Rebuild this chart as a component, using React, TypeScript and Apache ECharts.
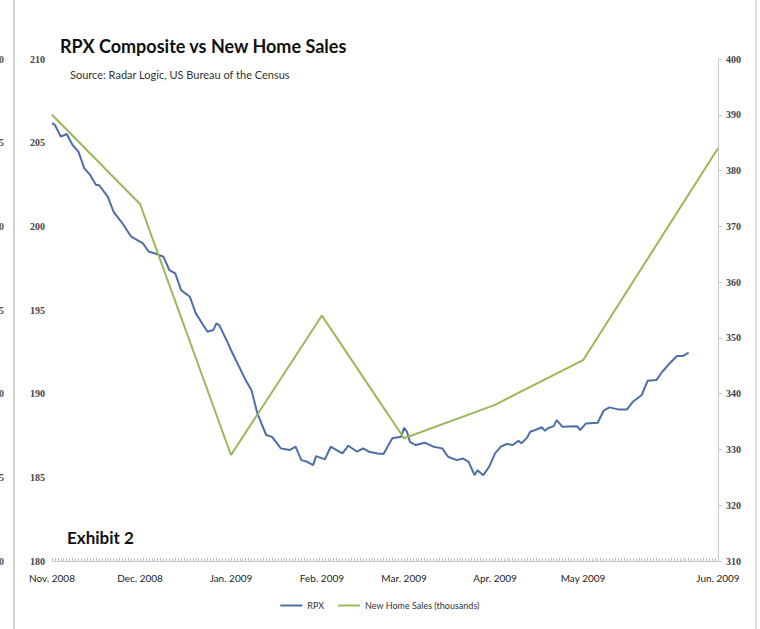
import React, { useEffect, useRef } from "react";
import * as echarts from "echarts";

// RPX composite index (left axis) — day offset from Nov 1, 2008
const rpxDays = [0, 1, 3, 5, 7, 9, 11, 13, 15, 16, 19, 21, 24, 27, 31, 33, 35, 38, 40, 42, 44, 47, 49, 53, 55, 56, 57, 60, 61, 66, 68, 70, 73, 75, 78, 81, 83, 85, 87, 89, 90, 93, 95, 97, 99, 101, 104, 106, 108, 111, 113, 116, 119, 120, 121, 122, 124, 127, 130, 133, 135, 138, 140, 142, 144, 145, 147, 149, 151, 153, 155, 157, 159, 160, 162, 163, 164, 167, 168, 169, 171, 172, 174, 179, 180, 182, 186, 188, 190, 193, 196, 198, 201, 203, 206, 208, 210, 213, 215, 217];
const rpxValues = [206.17, 206.06, 205.36, 205.52, 204.86, 204.46, 203.47, 203.07, 202.47, 202.47, 201.77, 200.87, 200.18, 199.38, 198.98, 198.48, 198.39, 198.18, 197.39, 197.19, 196.19, 195.79, 194.8, 193.7, 193.8, 194.2, 194.1, 193.01, 192.61, 190.81, 190.21, 188.82, 187.53, 187.42, 186.73, 186.63, 186.83, 186.03, 185.93, 185.73, 186.27, 186.07, 186.83, 186.63, 186.43, 186.89, 186.53, 186.73, 186.53, 186.43, 186.39, 187.33, 187.42, 187.96, 187.72, 187.12, 186.93, 187.07, 186.83, 186.73, 186.23, 186.03, 186.13, 185.93, 185.13, 185.43, 185.13, 185.63, 186.43, 186.83, 186.99, 186.93, 187.18, 187.03, 187.39, 187.72, 187.78, 187.99, 187.78, 187.93, 188.06, 188.42, 188.02, 188.06, 187.82, 188.22, 188.26, 188.98, 189.18, 189.06, 189.06, 189.52, 189.92, 190.77, 190.81, 191.31, 191.71, 192.25, 192.25, 192.45];

// New home sales, thousands (right axis)
const salesDays = [0, 30, 61, 92, 120, 151, 181, 227];
const salesValues = [390, 374, 329, 354, 332, 338, 346, 384];

// x-axis month labels
const monthDays = [0, 30, 61, 92, 120, 151, 181, 227];
const monthLabels = ["Nov. 2008", "Dec. 2008", "Jan. 2009", "Feb. 2009", "Mar. 2009", "Apr. 2009", "May 2009", "Jun. 2009"];

// left-axis ticks (the neighbouring, cut-off axis at the left edge shows their last digit)
const leftTicks = [210, 205, 200, 195, 190, 185, 180];

const AXIS_MAX_DAY = 227;

export default function App() {
  const ref = useRef<HTMLDivElement>(null);
  useEffect(() => {
    if (!ref.current) return;
    const chart = echarts.init(ref.current, null, { renderer: "svg" });
    const tickDays = Array.from({ length: AXIS_MAX_DAY + 1 }, (_, i) => i);
    const labelMap: Record<number, string> = {};
    monthDays.forEach((d, i) => (labelMap[d] = monthLabels[i]));
    const serif = "'Liberation Serif', 'DejaVu Serif', serif";
    const sans = "Lato, 'Open Sans', sans-serif";
    const top = 59;
    const bottom = 561;
    const cutDigits = leftTicks.map((t) => ({
      type: "text",
      x: 4,
      y: top + ((210 - t) / 30) * (bottom - top),
      style: {
        text: String(t % 10),
        font: `bold 10px ${serif}`,
        fill: "#555",
        textAlign: "right",
        textVerticalAlign: "middle",
      },
    }));
    chart.setOption({
      animation: false,
      backgroundColor: "#ffffff",
      grid: { left: 52, right: 42, top: 59, bottom: 68 },
      xAxis: {
        type: "value",
        min: 0,
        max: AXIS_MAX_DAY,
        splitLine: { show: false },
        axisLine: { show: true, lineStyle: { color: "#c8c8c8", width: 1 } },
        axisTick: {
          show: true,
          customValues: tickDays,
          length: 3,
          inside: true,
          lineStyle: { color: "#c0c0c0", width: 1 },
        },
        axisLabel: {
          customValues: monthDays,
          formatter: (v: number) => labelMap[v] ?? "",
          fontFamily: sans,
          fontSize: 10,
          color: "#222",
          margin: 12,
        },
      },
      yAxis: [
        {
          type: "value",
          min: 180,
          max: 210,
          interval: 5,
          position: "left",
          splitLine: { show: false },
          axisLine: { show: false },
          axisTick: { show: false },
          axisLabel: { fontFamily: serif, fontSize: 10, fontWeight: "bold", color: "#444", margin: 7 },
        },
        {
          type: "value",
          min: 310,
          max: 400,
          interval: 10,
          position: "right",
          splitLine: { show: false },
          axisLine: { show: true, lineStyle: { color: "#c8c8c8", width: 1 } },
          axisTick: { show: true, length: 4, lineStyle: { color: "#c8c8c8" } },
          axisLabel: { fontFamily: serif, fontSize: 10, fontWeight: "bold", color: "#444", margin: 8 },
        },
      ],
      legend: {
        bottom: 14,
        left: "center",
        icon: "rect",
        itemWidth: 22,
        itemHeight: 2,
        itemGap: 14,
        textStyle: { fontFamily: sans, fontSize: 9, color: "#333" },
        data: ["RPX", "New Home Sales (thousands)"],
      },
      series: [
        {
          name: "RPX",
          type: "line",
          yAxisIndex: 0,
          symbol: "none",
          lineStyle: { color: "#4f6ea8", width: 2 },
          itemStyle: { color: "#4f6ea8" },
          data: rpxDays.map((d, i) => [d, rpxValues[i]]),
        },
        {
          name: "New Home Sales (thousands)",
          type: "line",
          yAxisIndex: 1,
          symbol: "none",
          lineStyle: { color: "#9bb75a", width: 2 },
          itemStyle: { color: "#9bb75a" },
          data: salesDays.map((d, i) => [d, salesValues[i]]),
        },
      ],
      graphic: [
        { type: "line", shape: { x1: 14, y1: 0, x2: 14, y2: 629 }, style: { stroke: "#d4d4d4", lineWidth: 2 } },
        { type: "line", shape: { x1: 756, y1: 0, x2: 756, y2: 629 }, style: { stroke: "#e0e0e0", lineWidth: 2 } },
        ...cutDigits,
        {
          type: "text",
          x: 60,
          y: 46,
          style: { text: "RPX Composite vs New Home Sales", font: `bold 18px ${sans}`, fill: "#111", textVerticalAlign: "middle" },
        },
        {
          type: "text",
          x: 70,
          y: 74,
          style: { text: "Source: Radar Logic, US Bureau of the Census", font: `11px ${sans}`, fill: "#333", textVerticalAlign: "middle" },
        },
        {
          type: "text",
          x: 67,
          y: 537,
          style: { text: "Exhibit 2", font: `bold 17px ${sans}`, fill: "#111", textVerticalAlign: "middle" },
        },
      ],
    });
    return () => chart.dispose();
  }, []);
  return <div ref={ref} style={{ position: "fixed", left: 0, top: 0, width: 760, height: 629 }} />;
}
